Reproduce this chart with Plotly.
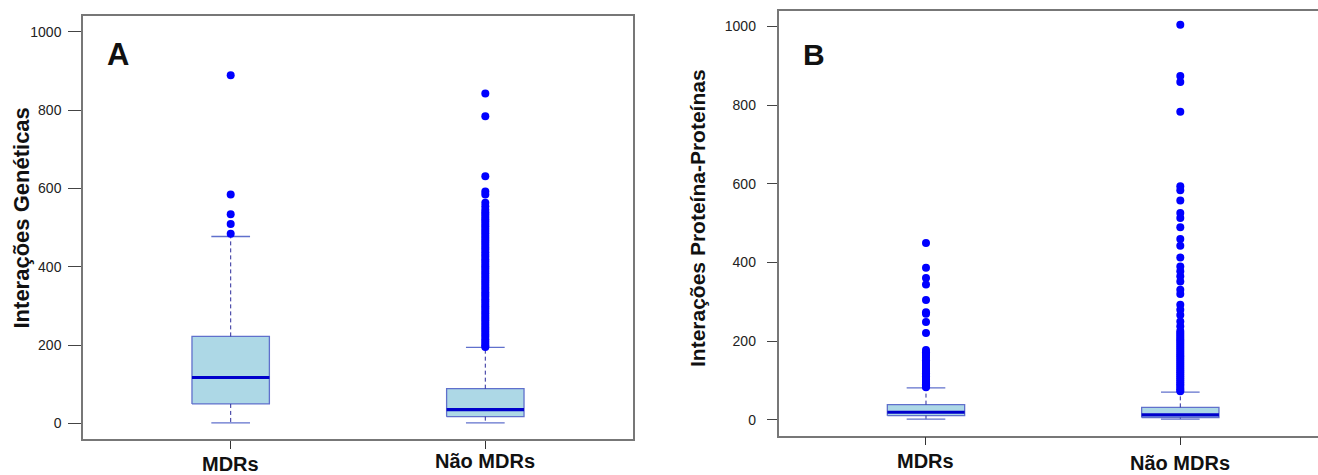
import plotly.graph_objects as go

# ---------------- data ----------------
categories = ["MDRs", "Não MDRs"]
positions = [1, 2]

# Panel A: Interações Genéticas
A_lower = [1, 1]
A_q1 = [49.5, 17]
A_median = [117, 35]
A_q3 = [222, 88.5]
A_upper = [477, 194]
A_out_mdr = [889, 584, 534, 509, 484]
A_out_nao = [842, 784, 631, 592, 584, 563, 554, 545, 539, 533, 527, 521, 515, 509,
             503, 497, 491, 485, 479, 473, 467, 461, 455, 449, 443, 437, 431, 425,
             419, 413, 407, 401, 395, 389, 383, 377, 371, 365, 359, 353, 347, 341,
             335, 329, 323, 317, 311, 305, 299, 293, 287, 281, 275, 269, 263, 257,
             251, 245, 239, 233, 227, 221, 215, 209, 203, 198, 195]

# Panel B: Interações Proteína-Proteínas
B_lower = [2, 2]
B_q1 = [11, 6]
B_median = [19.6, 12.7]
B_q3 = [39, 32]
B_upper = [81.5, 70.5]
B_out_mdr = [450, 387, 361, 344, 305, 274, 270, 249, 221, 178, 172, 168, 163, 158,
             152, 147, 142, 137, 132, 127, 123, 119, 115, 111, 107, 103, 99, 95,
             91, 88, 85, 83]
B_out_nao = [1004, 874, 859, 783, 594, 584, 558, 526, 513, 490, 460, 443, 413, 390,
             378, 365, 352, 331, 320, 293, 280, 267, 250, 238, 226, 221, 216, 211,
             206, 201, 196, 191, 186, 181, 176, 171, 166, 161, 156, 151, 146, 141,
             136, 131, 126, 121, 116, 111, 106, 101, 96, 91, 86, 81, 77, 73]

y_ticks = [0, 200, 400, 600, 800, 1000]

# ---------------- style ----------------
FONT = "Liberation Sans, Arial, Helvetica, sans-serif"
BOX_FILL = "#ADD8E6"
BOX_LINE = "#6070CC"
MEDIAN = "#0000CC"
WHISK = "#2A2A9A"
PT = "#0000FF"
HALF_BOX = 0.152
HALF_CAP = 0.076

fig = go.Figure()


def add_panel(xa, ya, lower, q1, med, q3, upper, outs):
    for i, p in enumerate(positions):
        # box
        fig.add_trace(go.Scatter(
            x=[p - HALF_BOX, p + HALF_BOX, p + HALF_BOX, p - HALF_BOX, p - HALF_BOX],
            y=[q1[i], q1[i], q3[i], q3[i], q1[i]],
            mode="lines", fill="toself", fillcolor=BOX_FILL,
            line=dict(color=BOX_LINE, width=1.3),
            xaxis=xa, yaxis=ya, showlegend=False, hoverinfo="skip"))
        # median
        fig.add_trace(go.Scatter(
            x=[p - HALF_BOX, p + HALF_BOX], y=[med[i], med[i]],
            mode="lines", line=dict(color=MEDIAN, width=3.2),
            xaxis=xa, yaxis=ya, showlegend=False, hoverinfo="skip"))
        # whiskers (dashed)
        for a, b in ((q3[i], upper[i]), (q1[i], lower[i])):
            fig.add_trace(go.Scatter(
                x=[p, p], y=[a, b], mode="lines",
                line=dict(color=WHISK, width=1, dash="4px,3px"),
                xaxis=xa, yaxis=ya, showlegend=False, hoverinfo="skip"))
        # caps
        for v in (upper[i], lower[i]):
            fig.add_trace(go.Scatter(
                x=[p - HALF_CAP, p + HALF_CAP], y=[v, v], mode="lines",
                line=dict(color=BOX_LINE, width=1.3),
                xaxis=xa, yaxis=ya, showlegend=False, hoverinfo="skip"))
        # outliers
        fig.add_trace(go.Scatter(
            x=[p] * len(outs[i]), y=outs[i], mode="markers",
            marker=dict(color=PT, size=8, line=dict(width=0)),
            xaxis=xa, yaxis=ya, showlegend=False, hoverinfo="skip"))


add_panel("x", "y", A_lower, A_q1, A_median, A_q3, A_upper, [A_out_mdr, A_out_nao])
add_panel("x2", "y2", B_lower, B_q1, B_median, B_q3, B_upper, [B_out_mdr, B_out_nao])

W, H = 1318, 475
FRAME = "#777777"
common_y = dict(range=[-40, 1040], tickvals=y_ticks, ticks="outside",
                tickcolor="#444444", showline=True, linecolor=FRAME, linewidth=1.5,
                showgrid=False, zeroline=False,
                tickfont=dict(family=FONT, size=14, color="#222222"))
common_x = dict(tickvals=positions, ticktext=["", ""], ticks="outside", ticklen=8,
                tickcolor="#333333", showline=True, linecolor=FRAME, linewidth=1.5,
                showgrid=False, zeroline=False, mirror=True)

fig.update_layout(
    width=W, height=H,
    margin=dict(l=0, r=0, t=0, b=0),
    paper_bgcolor="white", plot_bgcolor="white",
    xaxis=dict(domain=[83 / W, 633 / W], range=[0.42, 2.58], anchor="y", **common_x),
    yaxis=dict(domain=[(H - 439) / H, (H - 16) / H], anchor="x", mirror=True,
               ticklen=13, ticklabelstandoff=4, **common_y),
    xaxis2=dict(domain=[778.5 / W, 1.0], range=[0.42, 2.5415], anchor="y2", **common_x),
    yaxis2=dict(domain=[(H - 435.7) / H, (H - 10.7) / H], anchor="x2", mirror=False,
                ticklen=10, ticklabelstandoff=8, **common_y),
)

ann = []
# panel letters
ann.append(dict(text="<b>A</b>", xref="paper", yref="paper", x=105 / W, y=(H - 54) / H,
                xanchor="left", yanchor="middle", showarrow=False,
                font=dict(family=FONT, size=31, color="#111111")))
ann.append(dict(text="<b>B</b>", xref="paper", yref="paper", x=801 / W, y=(H - 54) / H,
                xanchor="left", yanchor="middle", showarrow=False,
                font=dict(family=FONT, size=30, color="#111111")))
# y titles
ann.append(dict(text="<b>Interações Genéticas</b>", xref="paper", yref="paper",
                x=21 / W, y=(H - 218.5) / H, textangle=-90, showarrow=False,
                xanchor="center", yanchor="middle",
                font=dict(family=FONT, size=22, color="#111111")))
ann.append(dict(text="<b>Interações Proteína-Proteínas</b>", xref="paper", yref="paper",
                x=697 / W, y=(H - 218) / H, textangle=-90, showarrow=False,
                xanchor="center", yanchor="middle",
                font=dict(family=FONT, size=21, color="#111111")))
# category labels
label_y_A = [464, 461]
label_y_B = [461, 463]
for i, c in enumerate(categories):
    ann.append(dict(text="<b>" + c + "</b>", xref="x", yref="paper", x=positions[i],
                    y=(H - label_y_A[i]) / H, showarrow=False, xanchor="center",
                    yanchor="middle", font=dict(family=FONT, size=20, color="#111111")))
    ann.append(dict(text="<b>" + c + "</b>", xref="x2", yref="paper", x=positions[i],
                    y=(H - label_y_B[i]) / H, showarrow=False, xanchor="center",
                    yanchor="middle", font=dict(family=FONT, size=20, color="#111111")))
fig.update_layout(annotations=ann)

fig.write_html("out.html")
